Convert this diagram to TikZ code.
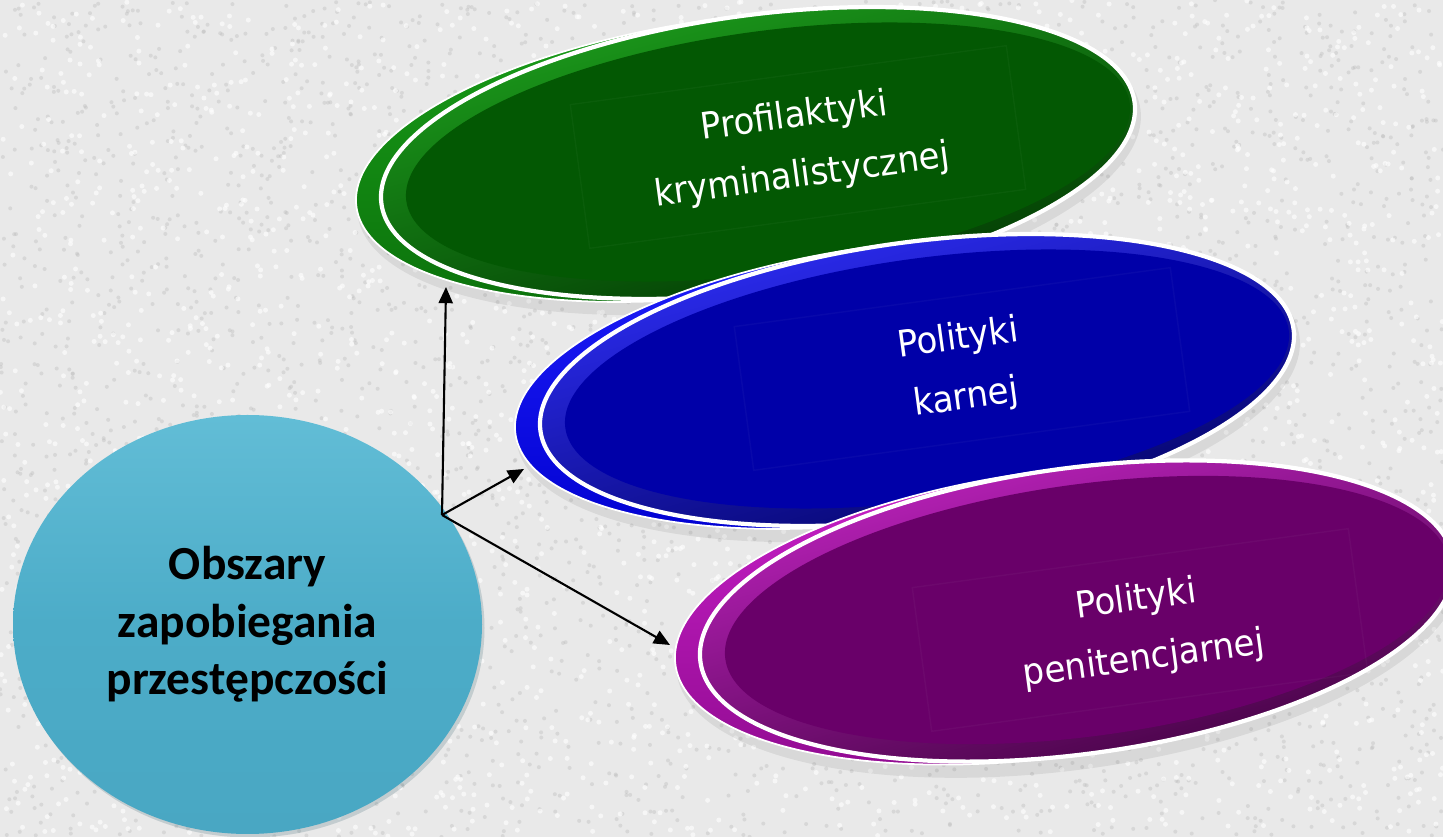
\documentclass[tikz,border=0pt]{standalone}
\usepackage{fontspec}
\usepackage{tikz}
\usetikzlibrary{shapes}
\usetikzlibrary{shapes.geometric}
\usetikzlibrary{arrows.meta}
\newfontfamily\hubfont{Carlito}
\newfontfamily\ovalfont[FakeStretch=0.93]{DejaVu Sans}
\pgfdeclarelayer{bglayer}
\pgfdeclarelayer{nodelayer}
\pgfdeclarelayer{edgelayer}
\pgfsetlayers{bglayer,nodelayer,edgelayer,main}
\definecolor{paper}{HTML}{E9E9E9}
\definecolor{speck}{HTML}{BDBDBD}
\definecolor{hubtop}{HTML}{62BDD6}
\definecolor{hubmid}{HTML}{4CACC8}
\definecolor{hubbot}{HTML}{49A7C3}
\definecolor{gbacktop}{HTML}{1AA01A}
\definecolor{gbackbot}{HTML}{0B700B}
\definecolor{grimtop}{HTML}{1EA41E}
\definecolor{grimbot}{HTML}{003000}
\definecolor{gcore}{HTML}{035803}
\definecolor{bbacktop}{HTML}{2222FF}
\definecolor{bbackbot}{HTML}{0000D0}
\definecolor{brimtop}{HTML}{3030FF}
\definecolor{brimbot}{HTML}{00005C}
\definecolor{bcore}{HTML}{0000A8}
\definecolor{pbacktop}{HTML}{CC22CC}
\definecolor{pbackbot}{HTML}{900A90}
\definecolor{primtop}{HTML}{C424C4}
\definecolor{primbot}{HTML}{3A003A}
\definecolor{pcore}{HTML}{690069}
\tikzstyle{none}=[inner sep=0pt]
\tikzstyle{hub}=[ellipse, inner sep=0pt, minimum width=4.69cm, minimum height=4.19cm, top color=hubtop, bottom color=hubbot, middle color=hubmid, align=center, font=\hubfont\bfseries\fontsize{13.5}{16.4}\selectfont]
\tikzstyle{shade}=[ellipse, inner sep=0pt, rotate=7.7, minimum width=7.9cm, minimum height=2.9cm, fill=black, opacity=0.07]
\tikzstyle{backoval}=[ellipse, inner sep=0pt, rotate=7.7, minimum width=7.6cm, minimum height=2.76cm, draw=white, line width=0.5pt]
\tikzstyle{rimoval}=[ellipse, inner sep=0pt, rotate=7.7, minimum width=7.6cm, minimum height=2.76cm, draw=white, line width=1.2pt]
\tikzstyle{coreoval}=[ellipse, inner sep=0pt, rotate=7.7, minimum width=7.3cm, minimum height=2.42cm]
\tikzstyle{caption}=[rotate=7.7, text=white, align=center, draw=white, draw opacity=0.03, minimum width=4.4cm, minimum height=1.45cm, font=\ovalfont\fontsize{10.4}{17}\selectfont]
\tikzstyle{arrow}=[-{Triangle[length=4.6pt,width=4pt]}, line width=0.6pt]

\begin{document}
\begin{tikzpicture}
	\useasboundingbox (0, 0) rectangle (14.43, 8.37);
	\begin{pgfonlayer}{bglayer}
		\fill [paper] (0, 0) rectangle (14.43, 8.37);
		\pgfmathsetseed{42}
		\foreach \i in {1,...,3500}
			\fill [speck, opacity=0.4] ({14.43*rnd}, {8.37*rnd}) circle (0.02);
		\foreach \i in {1,...,2500}
			\fill [white, opacity=0.6] ({14.43*rnd}, {8.37*rnd}) circle (0.025);
	\end{pgfonlayer}
	\begin{pgfonlayer}{nodelayer}
		\node [style=hub, fill=black, opacity=0.10] (0s) at (2.5, 2.09) {};
		\node [style=hub] (0) at (2.475, 2.125) {Obszary\\zapobiegania\\przestępczości};
		\node [style=none] (1) at (4.42, 3.22) {};
		\node [style=none] (2) at (4.46, 5.50) {};
		\node [style=none] (3) at (5.24, 3.68) {};
		\node [style=none] (4) at (6.70, 1.92) {};
		\node [style=shade] (5) at (7.49, 6.75) {};
		\node [style=backoval, top color=gbacktop, bottom color=gbackbot] (6) at (7.33, 6.81) {};
		\node [style=rimoval, top color=grimtop, bottom color=grimbot, shading angle=15] (7) at (7.58, 6.84) {};
		\node [style=coreoval, fill=gcore] (8) at (7.68, 6.85) {};
		\node [style=caption] (9) at (7.98, 6.90) {Profilaktyki\\kryminalistycznej};
		\node [style=shade] (10) at (9.08, 4.48) {};
		\node [style=backoval, top color=bbacktop, bottom color=bbackbot] (11) at (8.92, 4.54) {};
		\node [style=rimoval, top color=brimtop, bottom color=brimbot, shading angle=15] (12) at (9.17, 4.57) {};
		\node [style=coreoval, fill=bcore] (13) at (9.27, 4.58) {};
		\node [style=caption] (14) at (9.62, 4.68) {Polityki\\karnej};
		\node [style=shade, minimum height=3cm] (15) at (10.68, 2.17) {};
		\node [style=backoval, minimum height=2.86cm, top color=pbacktop, bottom color=pbackbot] (16) at (10.52, 2.23) {};
		\node [style=rimoval, minimum height=2.86cm, top color=primtop, bottom color=primbot, shading angle=15] (17) at (10.77, 2.26) {};
		\node [style=coreoval, minimum height=2.52cm, fill=pcore] (18) at (10.87, 2.27) {};
		\node [style=caption] (19) at (11.40, 2.07) {Polityki\\penitencjarnej};
	\end{pgfonlayer}
	\begin{pgfonlayer}{edgelayer}
		\draw [style=arrow] (1.center) to (2.center);
		\draw [style=arrow] (1.center) to (3.center);
		\draw [style=arrow] (1.center) to (4.center);
	\end{pgfonlayer}
\end{tikzpicture}
\end{document}
